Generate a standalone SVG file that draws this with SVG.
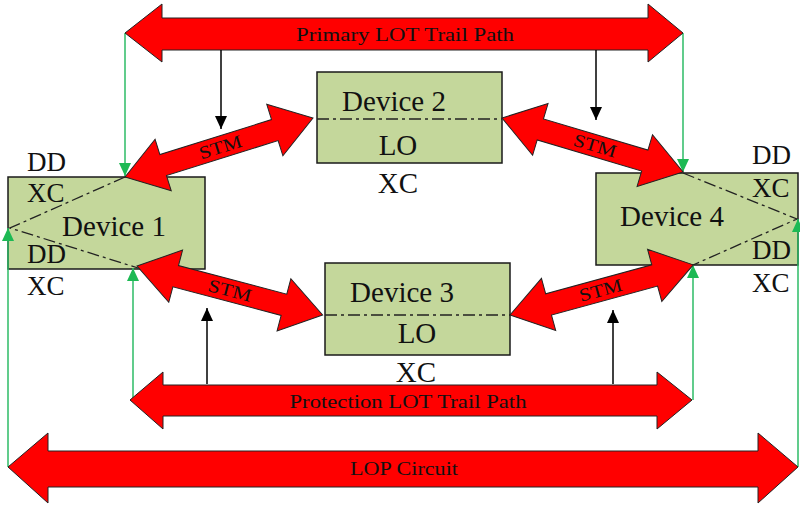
<svg xmlns="http://www.w3.org/2000/svg" width="800" height="506" viewBox="0 0 800 506">
<defs>
<style>
.box{fill:#c4d79b;stroke:#1a1a1a;stroke-width:1.5}
.dd{fill:none;stroke:#222;stroke-width:1.3;stroke-dasharray:12,4,3,4}
.red{fill:#ff0000;stroke:#222;stroke-width:1}
.g{stroke:#2dbb66;stroke-width:1.5;fill:none}
.k{stroke:#000;stroke-width:1.5;fill:none}
.t{font-family:"Liberation Serif","Times New Roman",serif;fill:#111}
.big{font-size:29px}
.lab{font-size:27px}
.sm{font-size:18px}
</style>
<marker id="ga" markerUnits="userSpaceOnUse" markerWidth="14" markerHeight="14" viewBox="0 0 14 14" refX="13" refY="7" orient="auto">
<path d="M0,1 L13,7 L0,13 Z" fill="#1db954"/>
</marker>
<marker id="ka" markerUnits="userSpaceOnUse" markerWidth="14" markerHeight="14" viewBox="0 0 14 14" refX="13" refY="7" orient="auto">
<path d="M0,1 L13,7 L0,13 Z" fill="#000"/>
</marker>
</defs>
<rect width="800" height="506" fill="#fff"/>

<g id="device1">
<rect class="box" x="8" y="177" width="197" height="92"/>
<polyline class="dd" points="125,177 10,228 138,268"/>
<text class="t big" x="114" y="236" text-anchor="middle">Device 1</text>
<text class="t lab" x="27" y="171">DD</text>
<text class="t lab" x="27" y="202">XC</text>
<text class="t lab" x="27" y="263">DD</text>
<text class="t lab" x="27" y="295">XC</text>
</g>

<g id="device2">
<rect class="box" x="317" y="72" width="185" height="91"/>
<line class="dd" x1="317" y1="119" x2="502" y2="119"/>
<text class="t big" x="394" y="111" text-anchor="middle">Device 2</text>
<text class="t big" x="398" y="155" text-anchor="middle">LO</text>
<text class="t big" x="398" y="193" text-anchor="middle">XC</text>
</g>

<g id="device3">
<rect class="box" x="325" y="263" width="185" height="92"/>
<line class="dd" x1="325" y1="315" x2="510" y2="315"/>
<text class="t big" x="402" y="302" text-anchor="middle">Device 3</text>
<text class="t big" x="417" y="343" text-anchor="middle">LO</text>
<text class="t big" x="416" y="382" text-anchor="middle">XC</text>
</g>

<g id="device4">
<rect class="box" x="596" y="173" width="202" height="92"/>
<polyline class="dd" points="683,173 797,219 693,265"/>
<text class="t big" x="672" y="226" text-anchor="middle">Device 4</text>
<text class="t lab" x="752" y="164">DD</text>
<text class="t lab" x="752" y="197">XC</text>
<text class="t lab" x="752" y="259">DD</text>
<text class="t lab" x="752" y="292">XC</text>
</g>

<g id="connectors">
<line class="g" x1="125" y1="33" x2="125" y2="176" marker-end="url(#ga)"/>
<line class="g" x1="683" y1="33" x2="683" y2="172" marker-end="url(#ga)"/>
<line class="g" x1="133" y1="400" x2="133" y2="268" marker-end="url(#ga)"/>
<line class="g" x1="693" y1="400" x2="693" y2="265" marker-end="url(#ga)"/>
<line class="g" x1="8" y1="467" x2="8" y2="228" marker-end="url(#ga)"/>
<line class="g" x1="798" y1="467" x2="798" y2="219" marker-end="url(#ga)"/>

<path class="red" d="M125,33 L162,4 L162,18 L648,18 L648,4 L683,33 L648,62 L648,50 L162,50 L162,62 Z"/>
<text class="t sm" x="405" y="41" text-anchor="middle" textLength="218" lengthAdjust="spacingAndGlyphs">Primary LOT Trail Path</text>

<path class="red" d="M130,400 L163,372 L163,385 L657,385 L657,372 L692,400 L657,429 L657,416 L163,416 L163,429 Z"/>
<text class="t sm" x="408" y="408" text-anchor="middle" textLength="237" lengthAdjust="spacingAndGlyphs">Protection LOT Trail Path</text>

<path class="red" d="M8,467 L48,433 L48,451 L758,451 L758,433 L798,467 L758,503 L758,487 L48,487 L48,503 Z"/>
<text class="t sm" x="404" y="475" text-anchor="middle" textLength="108" lengthAdjust="spacingAndGlyphs">LOP Circuit</text>

<line class="k" x1="221" y1="50" x2="221" y2="129" marker-end="url(#ka)"/>
<line class="k" x1="596" y1="50" x2="596" y2="120" marker-end="url(#ka)"/>
<line class="k" x1="207" y1="384" x2="207" y2="308" marker-end="url(#ka)"/>
<line class="k" x1="613" y1="384" x2="613" y2="310" marker-end="url(#ka)"/>

<g transform="translate(125,177) rotate(-17.4)">
<path class="red" d="M0,0 L40,-27 L40,-11 L157,-11 L157,-27 L197,0 L157,27 L157,11 L40,11 L40,27 Z"/>
<text class="t sm" x="100" y="6" text-anchor="middle" textLength="44" lengthAdjust="spacingAndGlyphs">STM</text>
</g>
<g transform="translate(502,118) rotate(16.6)">
<path class="red" d="M0,0 L40,-27 L40,-11 L149,-11 L149,-27 L189,0 L149,27 L149,11 L40,11 L40,27 Z"/>
<text class="t sm" x="97" y="6" text-anchor="middle" textLength="44" lengthAdjust="spacingAndGlyphs">STM</text>
</g>
<g transform="translate(137,266) rotate(14.8)">
<path class="red" d="M0,0 L40,-27 L40,-11 L152,-11 L152,-27 L192,0 L152,27 L152,11 L40,11 L40,27 Z"/>
<text class="t sm" x="96" y="6" text-anchor="middle" textLength="44" lengthAdjust="spacingAndGlyphs">STM</text>
</g>
<g transform="translate(510,315) rotate(-15.3)">
<path class="red" d="M0,0 L40,-27 L40,-11 L150,-11 L150,-27 L190,0 L150,27 L150,11 L40,11 L40,27 Z"/>
<text class="t sm" x="94" y="6" text-anchor="middle" textLength="44" lengthAdjust="spacingAndGlyphs">STM</text>
</g>
</g>
</svg>
